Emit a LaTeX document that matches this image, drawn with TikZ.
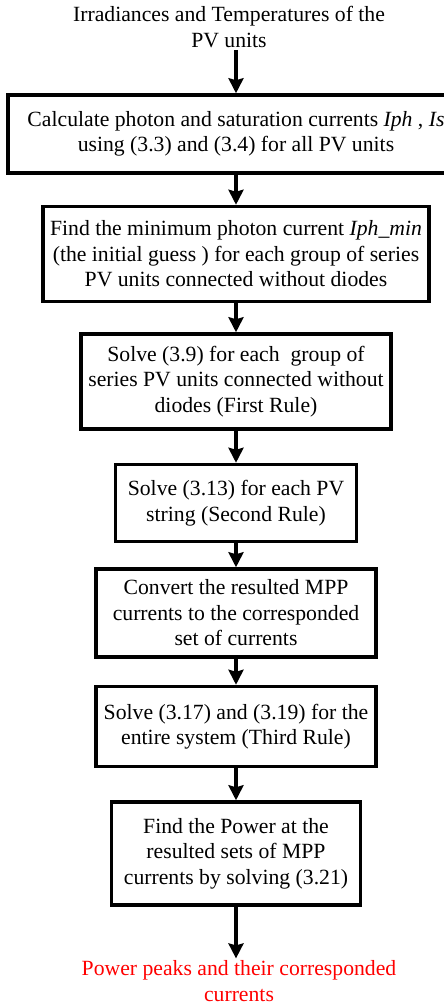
\documentclass[tikz,border=0pt]{standalone}
\usepackage{fontspec}
\setmainfont{Liberation Serif}
\usetikzlibrary{arrows.meta,positioning}
\tikzset{
  box/.style = {rectangle, draw=black, line width=3.5pt, fill=white, align=center,
                inner sep=2pt, font=\fontsize{21.7}{25.5}\selectfont},
  lbl/.style = {align=center, inner sep=2pt, font=\fontsize{21.7}{25.5}\selectfont},
  fl/.style  = {-{Stealth[length=15pt,width=15pt,inset=2pt]}, line width=3.5pt},
}

\begin{document}
\begin{tikzpicture}[x=1pt, y=1pt]
    \useasboundingbox (0,0) rectangle (444,-1007);
    \node[lbl] (src) at (229,-27) {Irradiances and Temperatures of the\\PV units};
    \node[box, minimum width=456pt, minimum height=78pt] (calc) at (236,-134)
      {Calculate photon and saturation currents \textit{Iph} , \textit{Is}\\using (3.3) and (3.4) for all PV units};
    \node[box, minimum width=386pt, minimum height=95pt, below=30pt of calc] (guess)
      {Find the minimum photon current \textit{Iph\_min}\\(the initial guess ) for each group of series\\PV units connected without diodes};
    \node[box, minimum width=310pt, minimum height=95pt, below=29pt of guess] (rule1)
      {Solve (3.9) for each\ \ group of\\series PV units connected without\\diodes (First Rule)};
    \node[box, minimum width=241pt, minimum height=77pt, below=32pt of rule1] (rule2)
      {Solve (3.13) for each PV\\string (Second Rule)};
    \node[box, minimum width=280pt, minimum height=88pt, below=24pt of rule2] (conv)
      {Convert the resulted MPP\\currents to the corresponded\\set of currents};
    \node[box, minimum width=280pt, minimum height=80pt, below=26pt of conv] (rule3)
      {Solve (3.17) and (3.19) for the\\entire system (Third Rule)};
    \node[box, minimum width=249pt, minimum height=103pt, below=32pt of rule3] (power)
      {Find the Power at the\\resulted sets of MPP\\currents by solving (3.21)};
    \node[lbl, text=red] (peaks) at (239,-981) {Power peaks and their corresponded\\currents};

    \draw[fl] (src.south -| calc) -- (calc);
    \foreach \a/\b in {calc/guess, guess/rule1, rule1/rule2, rule2/conv, conv/rule3, rule3/power}
      \draw[fl] (\a) -- (\b);
    \draw[fl] (power) -- (power |- peaks.north);
\end{tikzpicture}
\end{document}
